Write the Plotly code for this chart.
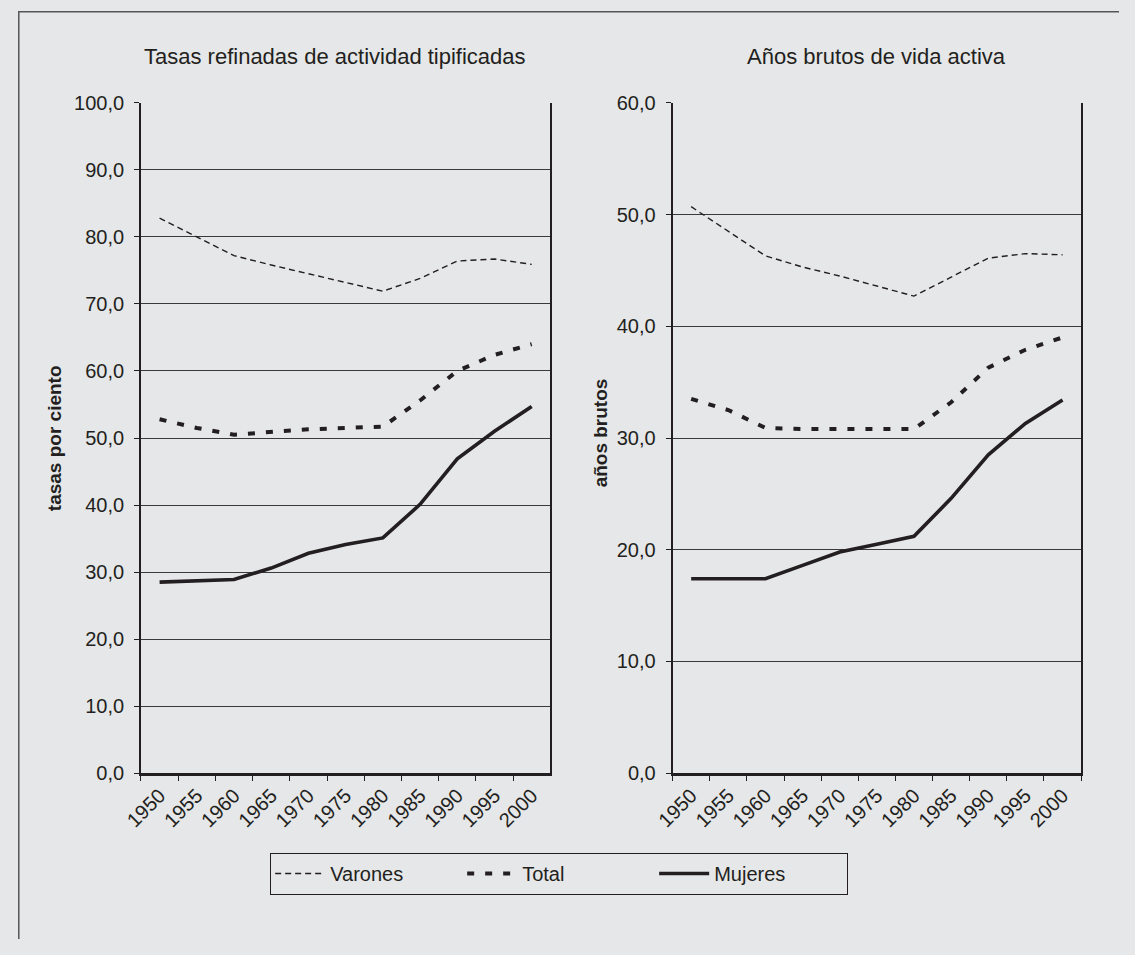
import plotly.graph_objects as go

# Years on the horizontal axis (categories)
years = ["1950", "1955", "1960", "1965", "1970", "1975", "1980", "1985", "1990", "1995", "2000"]

# Tasas refinadas de actividad tipificadas (tasas por ciento)
tasas_varones = [82.8, 80.0, 77.2, 75.8, 74.5, 73.3, 71.9, 73.8, 76.4, 76.7, 75.9]
tasas_total = [52.8, 51.5, 50.5, 50.9, 51.3, 51.5, 51.7, 55.6, 60.0, 62.4, 64.0]
tasas_mujeres = [28.5, 28.7, 28.9, 30.6, 32.8, 34.1, 35.1, 40.1, 46.9, 51.0, 54.7]

# Años brutos de vida activa
anos_varones = [50.7, 48.5, 46.3, 45.3, 44.5, 43.6, 42.7, 44.4, 46.1, 46.5, 46.4]
anos_total = [33.5, 32.5, 30.9, 30.8, 30.8, 30.8, 30.8, 33.2, 36.3, 37.9, 39.0]
anos_mujeres = [17.4, 17.4, 17.4, 18.6, 19.8, 20.5, 21.2, 24.6, 28.5, 31.3, 33.4]

INK = "#231f20"
BG = "#e6e7e8"
FONT = "Liberation Sans, Arial, sans-serif"

# The page body keeps its default 8px margin, so the figure is 16px smaller
# than the window and every position below is given in figure pixels.
W, H = 1119, 939


def px(x):
    return x / W


def py(y):
    return 1 - y / H


styles = {
    "Varones": dict(color=INK, width=1.4, dash="6px,4px"),
    "Total": dict(color=INK, width=4, dash="7px,11px"),
    "Mujeres": dict(color=INK, width=3.6),
}

fig = go.Figure()

panels = [
    ("x", "y", tasas_varones, tasas_total, tasas_mujeres, True),
    ("x2", "y2", anos_varones, anos_total, anos_mujeres, False),
]
for xa, ya, v, t, m, show in panels:
    for name, vals in (("Varones", v), ("Total", t), ("Mujeres", m)):
        fig.add_trace(go.Scatter(
            x=years, y=vals, mode="lines", name=name,
            line=styles[name], xaxis=xa, yaxis=ya,
            showlegend=show, legendgroup=name, hoverinfo="skip",
        ))

ydom = [py(780.5), py(94)]
common_x = dict(
    type="category", range=[-0.5, 10.5], tickson="boundaries",
    ticks="outside", ticklen=5, tickwidth=1.2, tickcolor=INK,
    tickangle=-45, showgrid=False, showline=True, linewidth=2.6,
    linecolor=INK, tickfont=dict(family=FONT, size=20, color=INK),
    fixedrange=True,
)
common_y = dict(
    dtick=10, tickformat=".1f", ticks="outside", ticklen=5,
    tickwidth=1.2, tickcolor=INK, showgrid=True, gridcolor="#3a3a3a",
    gridwidth=1.2, showline=True, linewidth=1.8, linecolor=INK,
    mirror=True, zeroline=False, domain=ydom, ticklabelstandoff=6,
    tickfont=dict(family=FONT, size=20, color=INK), fixedrange=True,
)

title_font = dict(family=FONT, size=22, color=INK)
axis_title_font = dict(family=FONT, size=19, color=INK)

fig.update_layout(
    width=W, height=H,
    margin=dict(l=0, r=0, t=0, b=0),
    paper_bgcolor=BG, plot_bgcolor=BG,
    separators=",.",
    font=dict(family=FONT, size=20, color=INK),
    xaxis=dict(domain=[px(125), px(541)], anchor="y", **common_x),
    xaxis2=dict(domain=[px(665.3), px(1080.5)], anchor="y2", **common_x),
    yaxis=dict(range=[0, 100], anchor="x", **common_y),
    yaxis2=dict(range=[0, 60], anchor="x2", **common_y),
    showlegend=True,
    legend=dict(
        orientation="h", x=px(550), xanchor="center",
        y=py(862), yanchor="top",
        bgcolor=BG, bordercolor=INK, borderwidth=1.2,
        font=dict(family=FONT, size=20, color=INK),
        itemwidth=50, entrywidth=127, entrywidthmode="pixels",
        itemclick=False, itemdoubleclick=False,
    ),
    shapes=[
        dict(type="rect", xref="paper", yref="paper",
             x0=px(0.8), x1=1.02, y0=-0.02, y1=py(0.8),
             line=dict(color="#555555", width=1.5), layer="below"),
    ],
    annotations=[
        dict(text="Tasas refinadas de actividad tipificadas", x=px(322), y=py(47),
             xanchor="center", yanchor="middle",
             xref="paper", yref="paper", showarrow=False, font=title_font),
        dict(text="Años brutos de vida activa", x=px(873), y=py(47),
             xanchor="center", yanchor="middle",
             xref="paper", yref="paper", showarrow=False, font=title_font),
        dict(text="<b>tasas por ciento</b>", x=px(37), y=py(437),
             xanchor="center", yanchor="middle",
             xref="paper", yref="paper", showarrow=False, textangle=-90,
             font=axis_title_font),
        dict(text="<b>años brutos</b>", x=px(592), y=py(432),
             xanchor="center", yanchor="middle",
             xref="paper", yref="paper", showarrow=False, textangle=-90,
             font=axis_title_font),
    ],
)

fig.write_html(
    "out.html",
    config=dict(displayModeBar=False),
    post_script="document.body.style.background='%s';" % BG,
)
